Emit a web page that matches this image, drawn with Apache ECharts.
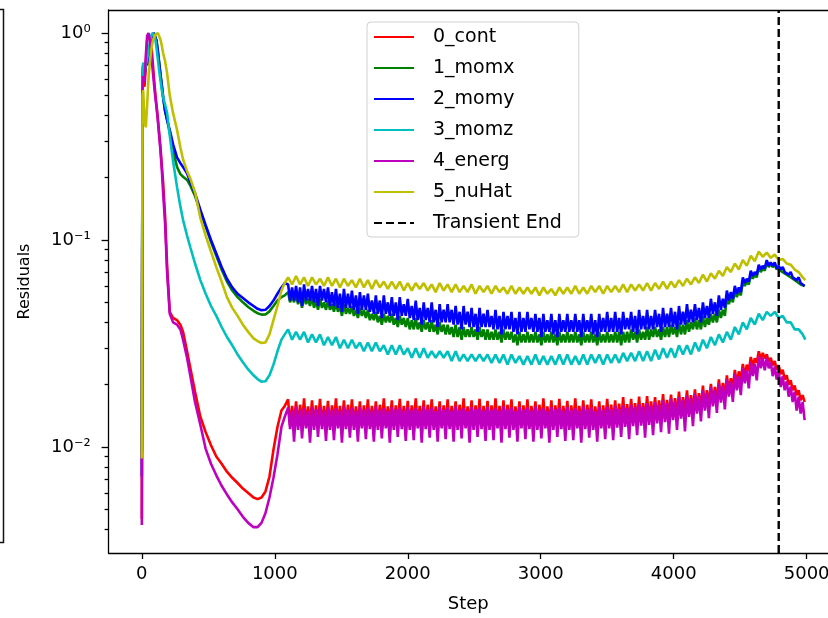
<!DOCTYPE html>
<html><head><meta charset="utf-8">
<script src="https://cdn.jsdelivr.net/npm/echarts@6/dist/echarts.min.js"></script>
<style>html,body{margin:0;padding:0;background:#fff;overflow:hidden}#c{width:828px;height:618px}</style>
</head><body><div id="c"></div>
<script>
// ---------- DATA ----------
// steps of the start-up phase (shared by all residuals)
const earlySteps = [0,5,10,20,30,40,50,60,70,80,90,100,110,120,130,140,150,160,175,190,210,235,265,290,310,340,365,400,440,480,520,560,600,640,680,720,760,800,840,870,900,930,960,990,1020,1050,1075];
// steps of the periodic phase for 3_momz and 5_nuHat
const lateSteps = [
1100,1130,1160,1190,1220,1250,1280,1310,1340,1370,
1400,1430,1460,1490,1520,1550,1580,1610,1640,1670,
1700,1730,1760,1790,1820,1850,1880,1910,1940,1970,
2000,2030,2060,2090,2120,2150,2180,2210,2240,2270,
2300,2330,2360,2390,2420,2450,2480,2510,2540,2570,
2600,2630,2660,2690,2720,2750,2780,2810,2840,2870,
2900,2930,2960,2990,3020,3050,3080,3110,3140,3170,
3200,3230,3260,3290,3320,3350,3380,3410,3440,3470,
3500,3530,3560,3590,3620,3650,3680,3710,3740,3770,
3800,3830,3860,3890,3920,3950,3980,4010,4040,4070,
4100,4130,4160,4190,4220,4250,4280,4310,4340,4370,
4400,4430,4460,4490,4520,4550,4580,4610,4640,4670,
4700,4730,4760,4790,4820,4850,4880,4910,4940,4970,
4990];
// steps of the periodic phase for 0_cont, 1_momx, 2_momy, 4_energ (noisier bands)
const denseSteps = [
1100,1115,1130,1145,1160,1175,1190,1205,1220,1235,1250,1265,1280,1295,1310,1325,1340,1355,1370,1385,
1400,1415,1430,1445,1460,1475,1490,1505,1520,1535,1550,1565,1580,1595,1610,1625,1640,1655,1670,1685,
1700,1715,1730,1745,1760,1775,1790,1805,1820,1835,1850,1865,1880,1895,1910,1925,1940,1955,1970,1985,
2000,2015,2030,2045,2060,2075,2090,2105,2120,2135,2150,2165,2180,2195,2210,2225,2240,2255,2270,2285,
2300,2315,2330,2345,2360,2375,2390,2405,2420,2435,2450,2465,2480,2495,2510,2525,2540,2555,2570,2585,
2600,2615,2630,2645,2660,2675,2690,2705,2720,2735,2750,2765,2780,2795,2810,2825,2840,2855,2870,2885,
2900,2915,2930,2945,2960,2975,2990,3005,3020,3035,3050,3065,3080,3095,3110,3125,3140,3155,3170,3185,
3200,3215,3230,3245,3260,3275,3290,3305,3320,3335,3350,3365,3380,3395,3410,3425,3440,3455,3470,3485,
3500,3515,3530,3545,3560,3575,3590,3605,3620,3635,3650,3665,3680,3695,3710,3725,3740,3755,3770,3785,
3800,3815,3830,3845,3860,3875,3890,3905,3920,3935,3950,3965,3980,3995,4010,4025,4040,4055,4070,4085,
4100,4115,4130,4145,4160,4175,4190,4205,4220,4235,4250,4265,4280,4295,4310,4325,4340,4355,4370,4385,
4400,4415,4430,4445,4460,4475,4490,4505,4520,4535,4550,4565,4580,4595,4610,4625,4640,4655,4670,4685,
4700,4715,4730,4745,4760,4775,4790,4805,4820,4835,4850,4865,4880,4895,4910,4925,4940,4955,4970,4985];

const contEarly = [0.0045,0.50,0.60,0.55,0.70,0.92,0.98,1.0,0.90,0.75,0.62,0.52,0.45,0.39,0.33,0.28,0.23,0.19,0.13,0.075,0.045,0.042,0.041,0.039,0.036,0.029,0.024,0.0185,0.0140,0.0118,0.0102,0.0090,0.0083,0.0076,0.0071,0.0067,0.0063,0.0060,0.0057,0.0056,0.0057,0.0061,0.0072,0.0097,0.0125,0.0150,0.0158];
const contLate = [
0.0170,0.0127,0.0158,0.0130,0.0166,0.0126,0.0160,0.0129,0.0172,0.0127,0.0157,0.0130,0.0168,0.0126,0.0159,0.0129,0.0171,0.0127,0.0158,0.0130,
0.0167,0.0126,0.0159,0.0130,0.0172,0.0127,0.0158,0.0129,0.0168,0.0126,0.0160,0.0130,0.0170,0.0127,0.0157,0.0129,0.0166,0.0126,0.0159,0.0130,
0.0170,0.0127,0.0158,0.0130,0.0166,0.0126,0.0160,0.0129,0.0172,0.0127,0.0157,0.0130,0.0168,0.0126,0.0159,0.0129,0.0171,0.0127,0.0158,0.0130,
0.0167,0.0126,0.0159,0.0130,0.0172,0.0127,0.0158,0.0129,0.0168,0.0126,0.0160,0.0130,0.0170,0.0127,0.0157,0.0129,0.0166,0.0126,0.0159,0.0130,
0.0170,0.0127,0.0158,0.0130,0.0166,0.0126,0.0160,0.0129,0.0172,0.0127,0.0157,0.0130,0.0168,0.0126,0.0159,0.0129,0.0171,0.0127,0.0158,0.0130,
0.0167,0.0126,0.0159,0.0130,0.0172,0.0127,0.0158,0.0129,0.0168,0.0126,0.0160,0.0130,0.0170,0.0127,0.0157,0.0129,0.0166,0.0126,0.0159,0.0130,
0.0170,0.0127,0.0158,0.0130,0.0166,0.0126,0.0160,0.0129,0.0172,0.0127,0.0157,0.0130,0.0168,0.0126,0.0159,0.0129,0.0171,0.0127,0.0158,0.0130,
0.0167,0.0126,0.0159,0.0130,0.0172,0.0127,0.0158,0.0129,0.0168,0.0126,0.0160,0.0130,0.0170,0.0127,0.0157,0.0129,0.0166,0.0126,0.0159,0.0130,
0.0171,0.0129,0.0160,0.0132,0.0168,0.0129,0.0162,0.0132,0.0174,0.0130,0.0161,0.0133,0.0171,0.0131,0.0163,0.0134,0.0175,0.0132,0.0163,0.0135,
0.0176,0.0134,0.0166,0.0137,0.0174,0.0135,0.0168,0.0139,0.0180,0.0137,0.0169,0.0141,0.0179,0.0140,0.0172,0.0143,0.0185,0.0142,0.0174,0.0146,
0.0188,0.0146,0.0178,0.0150,0.0190,0.0150,0.0182,0.0155,0.0198,0.0156,0.0188,0.0160,0.0202,0.0162,0.0195,0.0167,0.0212,0.0170,0.0204,0.0175,
0.0222,0.0185,0.0215,0.0192,0.0236,0.0200,0.0232,0.0210,0.0252,0.0220,0.0250,0.0232,0.0272,0.0245,0.0268,0.0255,0.0290,0.0265,0.0285,0.0268,
0.0280,0.0258,0.0270,0.0248,0.0260,0.0236,0.0248,0.0225,0.0236,0.0212,0.0222,0.0200,0.0210,0.0188,0.0198,0.0178,0.0188,0.0168,0.0178,0.0165];

const momxEarly = [0.0095,0.60,0.70,0.62,0.72,0.70,0.78,0.85,0.90,0.96,1.0,0.98,0.92,0.82,0.72,0.63,0.56,0.49,0.42,0.38,0.33,0.27,0.225,0.208,0.202,0.195,0.183,0.163,0.137,0.116,0.098,0.084,0.072,0.063,0.057,0.053,0.050,0.0475,0.0455,0.0443,0.0436,0.0437,0.0452,0.048,0.051,0.053,0.054];
const momxLate = [
0.056,0.050,0.054,0.050,0.055,0.049,0.053,0.047,0.054,0.049,0.052,0.048,0.053,0.047,0.051,0.046,0.052,0.047,0.050,0.046,
0.051,0.046,0.049,0.045,0.050,0.045,0.048,0.043,0.049,0.044,0.047,0.044,0.048,0.043,0.046,0.042,0.047,0.043,0.046,0.042,
0.046,0.041,0.044,0.041,0.045,0.040,0.043,0.039,0.044,0.040,0.043,0.040,0.044,0.039,0.042,0.038,0.043,0.039,0.042,0.038,
0.042,0.037,0.041,0.037,0.042,0.037,0.040,0.036,0.041,0.037,0.040,0.036,0.041,0.036,0.039,0.035,0.040,0.036,0.039,0.035,
0.039,0.035,0.038,0.034,0.039,0.034,0.038,0.033,0.038,0.034,0.037,0.034,0.038,0.034,0.037,0.033,0.038,0.034,0.037,0.033,
0.037,0.033,0.036,0.033,0.037,0.033,0.036,0.032,0.037,0.033,0.036,0.033,0.036,0.032,0.035,0.031,0.036,0.032,0.035,0.032,
0.036,0.032,0.035,0.032,0.036,0.032,0.035,0.031,0.036,0.032,0.035,0.032,0.036,0.032,0.035,0.031,0.036,0.032,0.035,0.032,
0.036,0.032,0.035,0.032,0.036,0.032,0.035,0.031,0.036,0.032,0.035,0.032,0.036,0.032,0.035,0.031,0.036,0.032,0.035,0.032,
0.036,0.032,0.035,0.032,0.036,0.032,0.036,0.031,0.036,0.032,0.036,0.032,0.037,0.033,0.036,0.032,0.037,0.033,0.036,0.033,
0.038,0.033,0.037,0.034,0.038,0.034,0.037,0.033,0.038,0.034,0.038,0.034,0.039,0.035,0.038,0.034,0.040,0.035,0.039,0.035,
0.041,0.036,0.040,0.037,0.042,0.037,0.041,0.037,0.043,0.038,0.042,0.039,0.044,0.040,0.044,0.040,0.046,0.042,0.046,0.043,
0.053,0.049,0.053,0.050,0.057,0.053,0.057,0.054,0.063,0.060,0.063,0.061,0.068,0.065,0.068,0.066,0.074,0.070,0.073,0.071,
0.078,0.074,0.077,0.074,0.076,0.072,0.074,0.071,0.072,0.069,0.070,0.067,0.068,0.065,0.066,0.063,0.064,0.061,0.062,0.060];

const momyEarly = [0.0072,0.60,0.70,0.62,0.72,0.70,0.78,0.85,0.90,0.96,1.0,0.98,0.92,0.82,0.72,0.63,0.56,0.49,0.42,0.38,0.34,0.29,0.25,0.235,0.225,0.21,0.19,0.168,0.14,0.118,0.10,0.086,0.074,0.065,0.059,0.055,0.0525,0.050,0.048,0.0465,0.0458,0.046,0.048,0.051,0.055,0.059,0.062];
const momyLate = [
0.061,0.051,0.059,0.051,0.060,0.050,0.059,0.048,0.061,0.051,0.058,0.051,0.060,0.050,0.058,0.048,0.060,0.051,0.058,0.050,
0.059,0.048,0.056,0.048,0.058,0.047,0.055,0.045,0.058,0.047,0.055,0.047,0.057,0.046,0.054,0.044,0.056,0.046,0.054,0.046,
0.055,0.045,0.051,0.044,0.054,0.044,0.051,0.042,0.054,0.044,0.050,0.043,0.053,0.043,0.050,0.041,0.053,0.043,0.049,0.043,
0.052,0.042,0.048,0.041,0.051,0.041,0.047,0.039,0.050,0.041,0.047,0.040,0.050,0.040,0.046,0.038,0.049,0.040,0.046,0.040,
0.049,0.040,0.046,0.039,0.048,0.039,0.045,0.037,0.048,0.039,0.045,0.038,0.047,0.038,0.044,0.036,0.047,0.038,0.044,0.038,
0.046,0.038,0.043,0.037,0.046,0.037,0.043,0.035,0.045,0.037,0.043,0.037,0.045,0.036,0.042,0.035,0.045,0.036,0.042,0.036,
0.045,0.037,0.042,0.036,0.044,0.036,0.042,0.034,0.044,0.036,0.041,0.036,0.044,0.035,0.041,0.034,0.044,0.036,0.041,0.036,
0.044,0.036,0.041,0.036,0.044,0.036,0.041,0.034,0.044,0.036,0.041,0.036,0.044,0.035,0.041,0.034,0.044,0.036,0.042,0.036,
0.045,0.036,0.042,0.036,0.045,0.036,0.042,0.035,0.045,0.037,0.042,0.037,0.045,0.036,0.043,0.035,0.046,0.037,0.043,0.037,
0.046,0.037,0.043,0.037,0.046,0.038,0.044,0.036,0.047,0.038,0.044,0.038,0.047,0.038,0.045,0.037,0.048,0.039,0.045,0.039,
0.049,0.040,0.046,0.040,0.049,0.041,0.047,0.040,0.050,0.042,0.048,0.042,0.052,0.044,0.050,0.043,0.054,0.046,0.052,0.047,
0.057,0.051,0.056,0.052,0.060,0.055,0.059,0.056,0.066,0.062,0.065,0.063,0.071,0.067,0.070,0.068,0.076,0.072,0.075,0.073,
0.080,0.075,0.078,0.075,0.078,0.073,0.075,0.072,0.074,0.070,0.071,0.068,0.070,0.066,0.067,0.064,0.066,0.062,0.063,0.060];

const momzEarly = [0.0095,0.60,0.72,0.65,0.70,0.75,0.82,0.90,0.97,1.0,1.0,0.95,0.85,0.75,0.66,0.59,0.53,0.49,0.45,0.41,0.32,0.24,0.18,0.145,0.125,0.105,0.092,0.077,0.064,0.055,0.048,0.043,0.038,0.034,0.031,0.028,0.0257,0.0237,0.0222,0.0213,0.0207,0.0208,0.0222,0.025,0.029,0.033,0.035];
const momzLate = [
0.037,0.033,0.036,0.033,0.036,0.032,0.035,0.032,0.035,0.031,
0.034,0.031,0.034,0.030,0.033,0.030,0.033,0.030,0.032,0.029,
0.032,0.029,0.032,0.029,0.031,0.028,0.031,0.028,0.031,0.028,
0.030,0.027,0.030,0.027,0.030,0.027,0.029,0.027,0.029,0.027,
0.029,0.026,0.029,0.026,0.028,0.026,0.028,0.026,0.028,0.026,
0.028,0.0255,0.028,0.0255,0.028,0.025,0.028,0.0255,0.0275,0.025,
0.0275,0.025,0.028,0.025,0.0275,0.025,0.0275,0.025,0.028,0.025,
0.028,0.025,0.0275,0.025,0.028,0.025,0.028,0.0255,0.028,0.025,
0.028,0.0255,0.028,0.0255,0.0285,0.026,0.0285,0.026,0.029,0.026,
0.029,0.026,0.0295,0.0265,0.030,0.027,0.030,0.027,0.031,0.028,
0.031,0.028,0.032,0.029,0.033,0.030,0.034,0.031,0.035,0.032,
0.036,0.033,0.038,0.035,0.040,0.037,0.042,0.039,0.044,0.041,
0.045,0.043,0.045,0.042,0.043,0.040,0.040,0.037,0.037,0.035,
0.033];

const energEarly = [0.0042,0.55,0.62,0.58,0.78,0.97,1.0,0.93,0.80,0.68,0.58,0.50,0.44,0.38,0.32,0.27,0.22,0.17,0.12,0.07,0.044,0.040,0.039,0.037,0.033,0.027,0.022,0.0165,0.0128,0.0098,0.0083,0.0073,0.0065,0.0059,0.0054,0.0050,0.0046,0.0043,0.0041,0.0041,0.0043,0.0048,0.0057,0.0071,0.0092,0.0125,0.0140];
const energLate = [
0.0155,0.0122,0.0150,0.0106,0.0157,0.0121,0.0151,0.0110,0.0154,0.0123,0.0149,0.0105,0.0156,0.0121,0.0152,0.0112,0.0155,0.0122,0.0150,0.0107,
0.0156,0.0121,0.0151,0.0108,0.0154,0.0123,0.0150,0.0105,0.0157,0.0122,0.0152,0.0111,0.0155,0.0121,0.0149,0.0106,0.0156,0.0123,0.0151,0.0109,
0.0155,0.0122,0.0150,0.0106,0.0157,0.0121,0.0151,0.0110,0.0154,0.0123,0.0149,0.0105,0.0156,0.0121,0.0152,0.0112,0.0155,0.0122,0.0150,0.0107,
0.0156,0.0121,0.0151,0.0108,0.0154,0.0123,0.0150,0.0105,0.0157,0.0122,0.0152,0.0111,0.0155,0.0121,0.0149,0.0106,0.0156,0.0123,0.0151,0.0109,
0.0155,0.0122,0.0150,0.0106,0.0157,0.0121,0.0151,0.0110,0.0154,0.0123,0.0149,0.0105,0.0156,0.0121,0.0152,0.0112,0.0155,0.0122,0.0150,0.0107,
0.0156,0.0121,0.0151,0.0108,0.0154,0.0123,0.0150,0.0105,0.0157,0.0122,0.0152,0.0111,0.0155,0.0121,0.0149,0.0106,0.0156,0.0123,0.0151,0.0109,
0.0155,0.0122,0.0150,0.0106,0.0157,0.0121,0.0151,0.0110,0.0154,0.0123,0.0149,0.0105,0.0156,0.0121,0.0152,0.0112,0.0155,0.0122,0.0150,0.0107,
0.0156,0.0121,0.0151,0.0108,0.0154,0.0123,0.0150,0.0105,0.0157,0.0122,0.0152,0.0111,0.0155,0.0121,0.0149,0.0106,0.0156,0.0123,0.0151,0.0109,
0.0157,0.0123,0.0152,0.0108,0.0158,0.0124,0.0153,0.0112,0.0159,0.0125,0.0154,0.0109,0.0160,0.0126,0.0156,0.0114,0.0161,0.0127,0.0157,0.0111,
0.0163,0.0128,0.0158,0.0114,0.0165,0.0130,0.0160,0.0118,0.0168,0.0132,0.0163,0.0116,0.0171,0.0135,0.0166,0.0121,0.0174,0.0137,0.0169,0.0119,
0.0177,0.0140,0.0172,0.0126,0.0181,0.0145,0.0176,0.0133,0.0188,0.0150,0.0182,0.0138,0.0195,0.0157,0.0189,0.0146,0.0203,0.0164,0.0197,0.0152,
0.0213,0.0175,0.0207,0.0165,0.0226,0.0188,0.0220,0.0178,0.0242,0.0203,0.0236,0.0192,0.0258,0.0220,0.0252,0.0210,0.0275,0.0240,0.0270,0.0235,
0.0270,0.0240,0.0258,0.0220,0.0245,0.0212,0.0232,0.0195,0.0220,0.0188,0.0208,0.0175,0.0196,0.0165,0.0185,0.0150,0.0175,0.0145,0.0165,0.0135];

const nuHatEarly = [0.0088,0.50,0.53,0.38,0.35,0.45,0.60,0.72,0.82,0.90,0.95,0.98,1.0,1.0,0.98,0.93,0.87,0.80,0.73,0.64,0.50,0.41,0.34,0.28,0.245,0.215,0.198,0.17,0.128,0.105,0.088,0.074,0.063,0.053,0.047,0.043,0.039,0.036,0.0335,0.0325,0.0318,0.032,0.035,0.041,0.048,0.057,0.062];
const nuHatLate = [
0.066,0.061,0.067,0.061,0.066,0.060,0.066,0.061,0.065,0.060,
0.066,0.060,0.065,0.059,0.065,0.060,0.064,0.059,0.065,0.059,
0.064,0.058,0.064,0.059,0.063,0.058,0.063,0.058,0.063,0.057,
0.062,0.057,0.062,0.058,0.062,0.057,0.061,0.056,0.062,0.057,
0.061,0.056,0.061,0.056,0.060,0.056,0.061,0.055,0.060,0.056,
0.060,0.055,0.060,0.056,0.059,0.055,0.060,0.055,0.059,0.055,
0.059,0.055,0.059,0.054,0.059,0.055,0.058,0.054,0.059,0.055,
0.059,0.055,0.060,0.055,0.059,0.055,0.060,0.056,0.060,0.055,
0.060,0.056,0.060,0.056,0.061,0.056,0.061,0.057,0.061,0.057,
0.062,0.057,0.062,0.058,0.063,0.058,0.063,0.059,0.064,0.060,
0.065,0.061,0.066,0.062,0.068,0.063,0.069,0.065,0.071,0.067,
0.074,0.070,0.077,0.072,0.080,0.075,0.084,0.079,0.088,0.083,
0.087,0.082,0.085,0.080,0.081,0.077,0.076,0.072,0.070,0.066,
0.064];

const seriesNames = ['0_cont','1_momx','2_momy','3_momz','4_energ','5_nuHat'];
const transientName = 'Transient End';
const transientEnd = 4790;
const xTicks = [0,1000,2000,3000,4000,5000];
const yTickValues = [0.01, 0.1, 1];
const yTickLabels = ['10\u207B\u00B2','10\u207B\u00B9','10\u2070'];
const yMinorValues = [0.004,0.005,0.006,0.007,0.008,0.009,0.02,0.03,0.04,0.05,0.06,0.07,0.08,0.09,0.2,0.3,0.4,0.5,0.6,0.7,0.8,0.9];

// ---------- STYLE / LAYOUT ----------
const colors = ['#ff0000','#008000','#0000ff','#00bfbf','#bf00bf','#bfbf00'];
const FONT = 'DejaVu Sans';
const yMin = 0.003076, yMax = 1.2916;
// visible x range (the figure is cropped at the right edge)
const xMin = -250, xMax = 5160.7;
const lg = v => Math.log10(v);

const allSteps = earlySteps.concat(denseSteps);
const sparseSteps = earlySteps.concat(lateSteps);
const seriesSteps = [allSteps, allSteps, allSteps, sparseSteps, allSteps, sparseSteps];
const values = [
  contEarly.concat(contLate),
  momxEarly.concat(momxLate),
  momyEarly.concat(momyLate),
  momzEarly.concat(momzLate),
  energEarly.concat(energLate),
  nuHatEarly.concat(nuHatLate)
];

const LW = 2.6;
const series = seriesNames.map((name, i) => ({
  name, type: 'line', xAxisIndex: 0, yAxisIndex: 0,
  data: seriesSteps[i].map((s, j) => [s, values[i][j]]),
  symbol: 'none', showSymbol: false,
  lineStyle: { color: colors[i], width: LW },
  itemStyle: { color: colors[i] },
  z: 2 + i
}));
series.push({
  name: transientName, type: 'line', xAxisIndex: 0, yAxisIndex: 0,
  data: [[transientEnd, yMin], [transientEnd, yMax]],
  symbol: 'none', showSymbol: false,
  lineStyle: { color: '#000', width: 2.4, type: [8, 4] },
  itemStyle: { color: '#000' },
  z: 10
});

const axisLineStyle = { color: '#000', width: 1.3 };
const labelStyle = { fontSize: 18, fontFamily: FONT, color: '#000' };

const option = {
  animation: false,
  backgroundColor: '#fff',
  grid: { left: 108.6, top: 10, width: 719.4, height: 543, show: false, outerBoundsMode: 'none', containLabel: false },
  xAxis: [{
    type: 'value', min: xMin, max: xMax, position: 'bottom',
    axisLine: { show: true, onZero: false, lineStyle: axisLineStyle },
    axisTick: { show: true, customValues: xTicks, length: 6, lineStyle: axisLineStyle },
    axisLabel: Object.assign({ customValues: xTicks, margin: 12, formatter: v => String(v) }, labelStyle),
    splitLine: { show: false },
    name: 'Step', nameLocation: 'middle', nameGap: 42,
    nameTextStyle: labelStyle
  }, {
    type: 'value', min: xMin, max: xMax, position: 'top',
    axisLine: { show: true, onZero: false, lineStyle: axisLineStyle },
    axisTick: { show: false }, axisLabel: { show: false }, splitLine: { show: false }
  }],
  yAxis: [
    { type: 'log', logBase: 10, min: yMin, max: yMax, show: false, axisLine: { onZero: false }, splitLine: { show: false } },
    {
      type: 'value', min: lg(yMin), max: lg(yMax), position: 'left',
      axisLine: { show: true, onZero: false, lineStyle: axisLineStyle },
      axisTick: { show: true, customValues: yTickValues.map(lg), length: 7, lineStyle: axisLineStyle },
      axisLabel: Object.assign({
        customValues: yTickValues.map(lg), margin: 18,
        formatter: v => {
          for (let i = 0; i < yTickValues.length; i++) if (Math.abs(v - lg(yTickValues[i])) < 1e-6) return yTickLabels[i];
          return '';
        }
      }, labelStyle),
      splitLine: { show: false },
      name: 'Residuals', nameLocation: 'middle', nameGap: 76, nameRotate: 90,
      nameTextStyle: { fontSize: 16, fontFamily: FONT, color: '#000' }
    },
    {
      type: 'value', min: lg(yMin), max: lg(yMax), position: 'left',
      axisLine: { show: false, onZero: false },
      axisTick: { show: true, customValues: yMinorValues.map(lg), length: 4, lineStyle: axisLineStyle },
      axisLabel: { show: false },
      splitLine: { show: false }
    }
  ],
  legend: {
    orient: 'vertical', left: 367, top: 22,
    itemWidth: 40, itemHeight: 20, itemGap: 11,
    padding: [5, 17, 4, 6],
    itemStyle: { opacity: 0, borderWidth: 0 },
    backgroundColor: 'rgba(255,255,255,0.85)', borderColor: '#d0d0d0', borderWidth: 1, borderRadius: 4,
    textStyle: { fontSize: 19, fontFamily: FONT, color: '#000', lineHeight: 20, padding: [0, 0, 0, 14] },
    data: seriesNames.concat([transientName])
  },
  graphic: [
    { type: 'rect', shape: { x: -20, y: 9.5, width: 23.5, height: 533 }, style: { fill: 'none', stroke: '#111', lineWidth: 1.5 }, silent: true }
  ],
  series
};

const chart = echarts.init(document.getElementById('c'), null, { renderer: 'canvas' });
chart.setOption(option);
</script></body></html>
